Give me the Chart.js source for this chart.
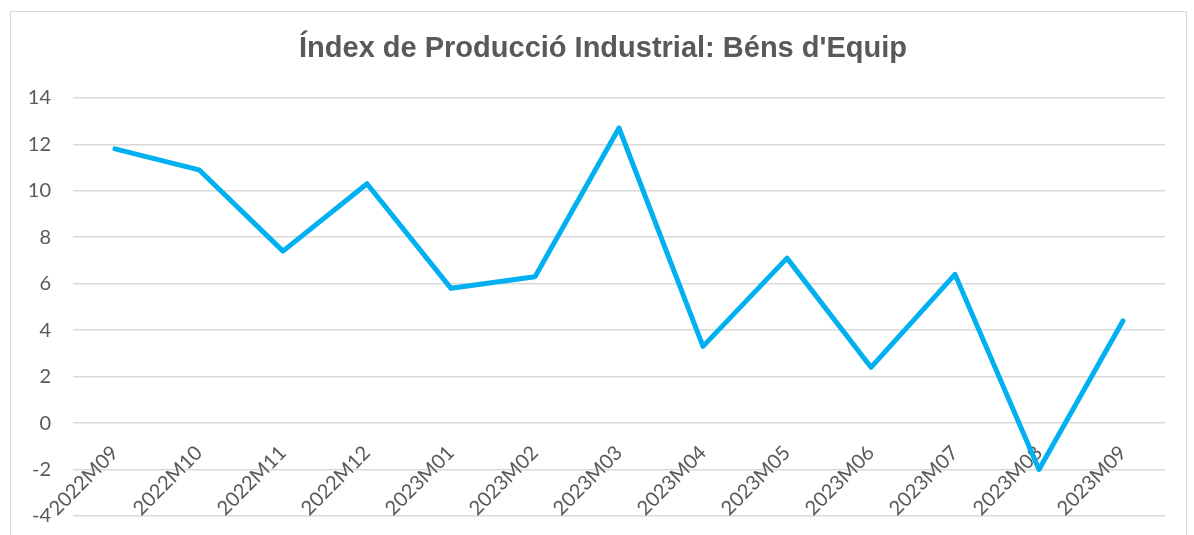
<!DOCTYPE html>
<html>
<head>
<meta charset="utf-8">
<script src="https://cdn.jsdelivr.net/npm/chart.js@4.4.1/dist/chart.umd.min.js"></script>
<style>
  html, body { margin: 0; padding: 0; background: #ffffff; overflow: hidden; }
  #wrap { position: relative; width: 1194px; height: 535px; }
  #frame { position: absolute; left: 10px; top: 11px; width: 1177px; height: 600px; border: 1px solid #d9d9d9; box-sizing: border-box; }
  canvas { position: absolute; left: 0; top: 0; }
</style>
</head>
<body>
<div id="wrap">
  <div id="frame"></div>
  <canvas id="c" width="1194" height="535"></canvas>
</div>
<script>
const titleText = "Índex de Producció Industrial: Béns d'Equip";
const categories = ["2022M09", "2022M10", "2022M11", "2022M12", "2023M01", "2023M02", "2023M03", "2023M04", "2023M05", "2023M06", "2023M07", "2023M08", "2023M09"];
const values = [11.8, 10.9, 7.4, 10.3, 5.8, 6.3, 12.7, 3.3, 7.1, 2.4, 6.4, -2.0, 4.4];
const yMin = -4, yMax = 14, yStep = 2;

new Chart(document.getElementById('c'), {
  type: 'line',
  data: {
    labels: categories,
    datasets: [{
      data: values,
      borderColor: '#00B0F0',
      borderWidth: 5,
      pointRadius: 0,
      pointHoverRadius: 0,
      tension: 0,
      fill: false,
      borderCapStyle: 'round',
      borderJoinStyle: 'round'
    }]
  },
  options: {
    responsive: false,
    animation: false,
    events: [],
    layout: { padding: { left: 12, right: 0, top: 0, bottom: 19 } },
    plugins: {
      legend: { display: false },
      tooltip: { enabled: false },
      title: {
        display: true,
        text: titleText,
        color: '#595959',
        font: { family: "'Liberation Sans', Arial, sans-serif", size: 29, weight: 'bold' },
        padding: { top: 32, bottom: 31 }
      }
    },
    scales: {
      x: {
        position: { y: 0 },
        offset: true,
        afterFit: (s) => { s.paddingTop = 0; s.paddingBottom = 0; s.paddingLeft = 0; s.paddingRight = 0; },
        grid: { display: false, drawTicks: false },
        border: { display: false },
        ticks: {
          color: '#595959',
          font: { family: "Lato, 'Open Sans', sans-serif", size: 20 },
          minRotation: 45,
          maxRotation: 45,
          autoSkip: false,
          padding: 18
        }
      },
      y: {
        min: yMin,
        max: yMax,
        afterFit: (s) => { s.width = 61; s.paddingBottom = 0; s.paddingRight = 29; },
        grid: { color: '#d9d9d9', lineWidth: 1.5, drawTicks: false },
        border: { display: false },
        ticks: {
          stepSize: yStep,
          color: '#595959',
          font: { family: "Lato, 'Open Sans', sans-serif", size: 20 },
          padding: 22
        }
      }
    }
  }
});
</script>
</body>
</html>
